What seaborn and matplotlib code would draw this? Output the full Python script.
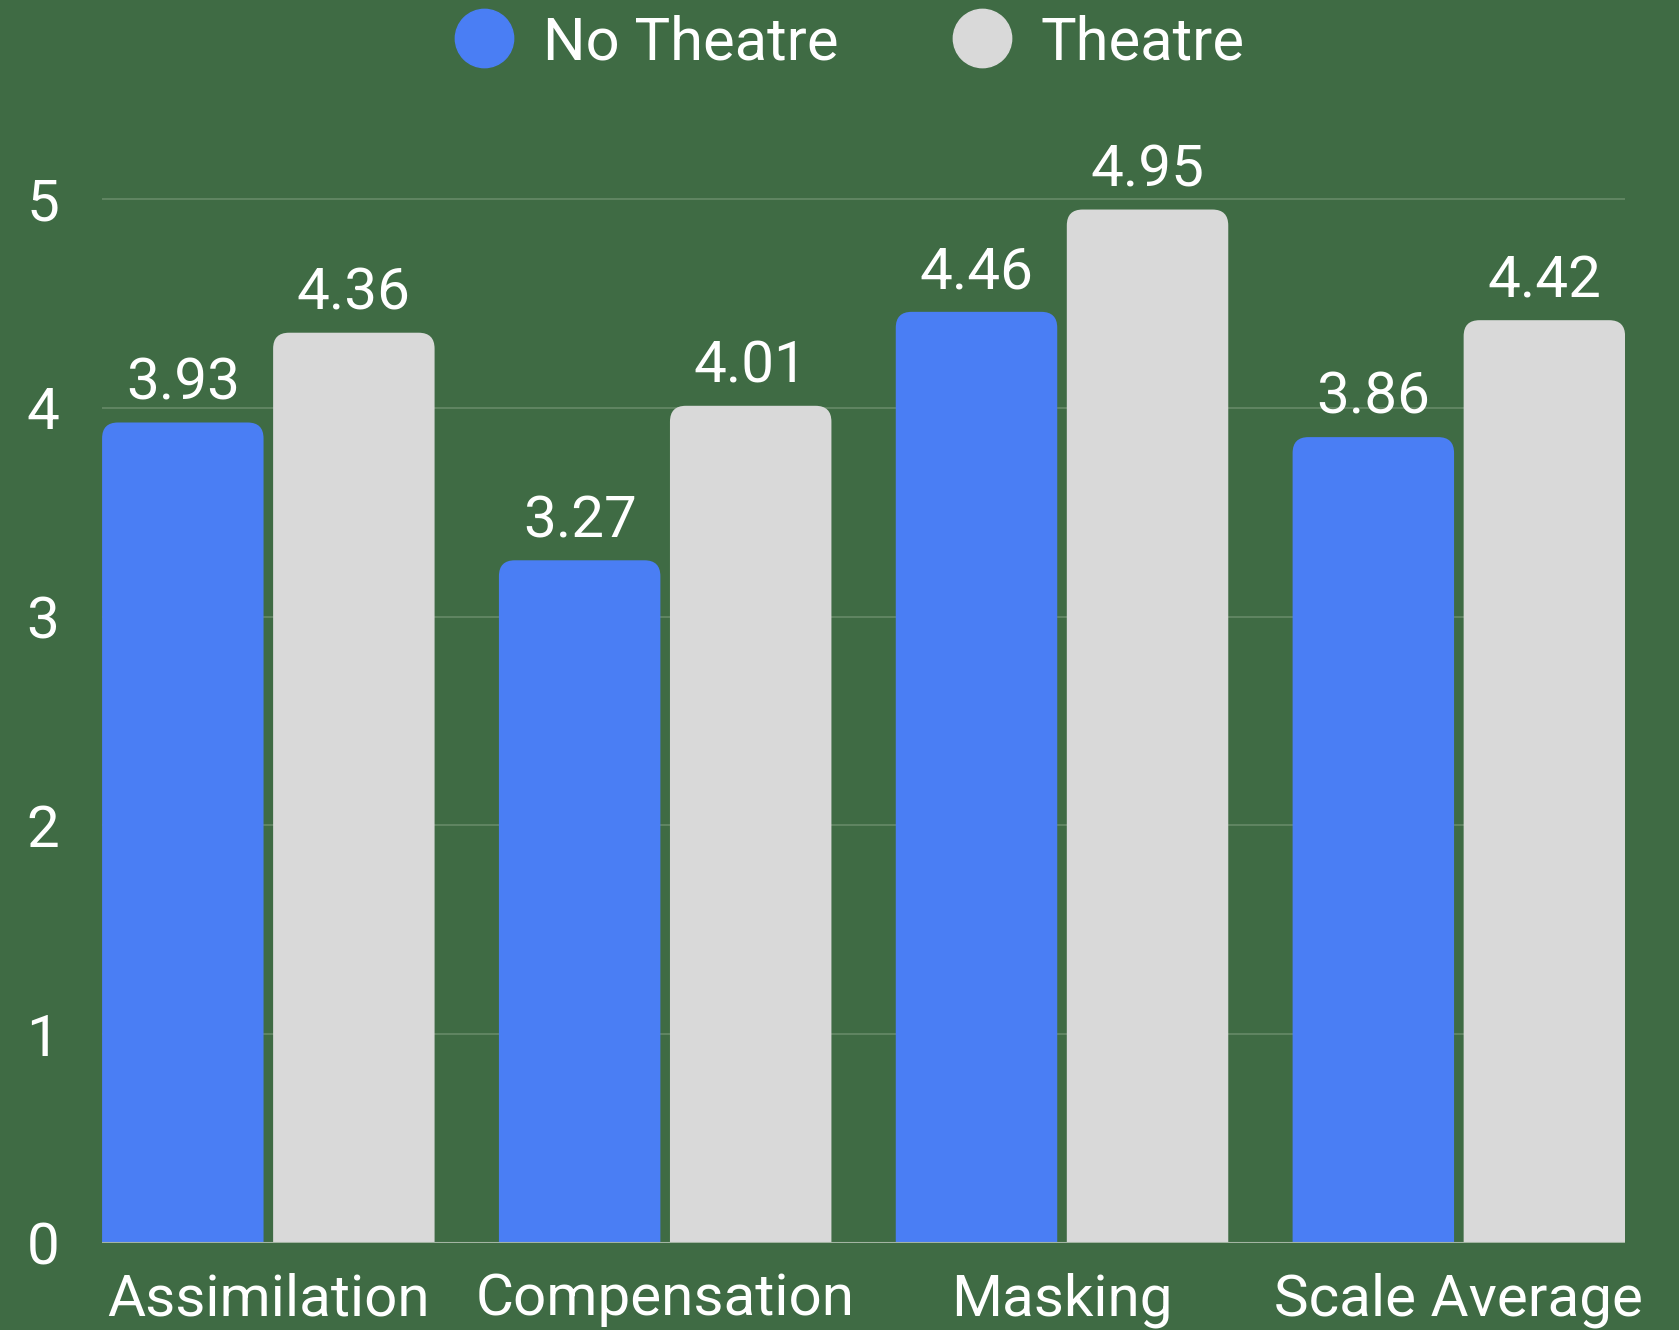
# Theatre vs no theatre bar chart

import pandas as pd
import matplotlib
matplotlib.use("Agg")
import matplotlib.pyplot as plt
from matplotlib.patches import FancyBboxPatch
from matplotlib.lines import Line2D
import seaborn as sns


# Chart data
categories = ["Assimilation", "Compensation", "Masking", "Scale Average"]
groups = ["No Theatre", "Theatre"]
noTheatre = [3.93, 3.27, 4.46, 3.86]
theatre = [4.36, 4.01, 4.95, 4.42]
yTicks = [0, 1, 2, 3, 4, 5]

# Colours
bgColor = "#3f6b44"
blueColor = "#4a7ef4"
greyColor = "#d9d9d9"
textColor = "#ffffff"

df = pd.DataFrame({
    "category": categories * 2,
    "group": [groups[0]] * len(categories) + [groups[1]] * len(categories),
    "score": noTheatre + theatre,
})

plt.rcParams["font.family"] = ["Roboto", "DejaVu Sans"]

fig = plt.figure(figsize=(16.79, 13.3), dpi=100)
fig.patch.set_facecolor(bgColor)
ax = fig.add_axes([0.0608, 0.0654, 0.9071, 0.832])
ax.set_facecolor(bgColor)

sns.barplot(data=df, x="category", y="score", hue="group",
            palette=[blueColor, greyColor], saturation=1,
            width=0.862, gap=0.056, legend=False, ax=ax, zorder=2)

# Value labels above bars
for container in ax.containers:
    ax.bar_label(container, fmt="%.2f", padding=8, fontsize=42,
                 color=textColor)

# Swap plain bars for bars with rounded tops
xLeft, xRight = [], []
for bar in list(ax.patches):
    x, w, h = bar.get_x(), bar.get_width(), bar.get_height()
    xLeft.append(x)
    xRight.append(x + w)
    rounded = FancyBboxPatch((x, -0.4), w, h + 0.4,
                             boxstyle="round,pad=0,rounding_size=0.04",
                             mutation_aspect=1.9,
                             facecolor=bar.get_facecolor(), edgecolor="none",
                             zorder=2)
    bar.set_visible(False)
    ax.add_patch(rounded)

ax.set_xlim(min(xLeft), max(xRight))
ax.set_ylim(0, 5.3)
ax.set_yticks(yTicks)

for side in ax.spines:
    ax.spines[side].set_visible(False)

ax.yaxis.grid(True, color="#668a68", linewidth=1.2, zorder=0)
ax.set_axisbelow(True)
ax.axhline(0, color="#a3b5a3", linewidth=1.5, zorder=3)

ax.set_xlabel("")
ax.set_ylabel("")
ax.tick_params(axis="both", length=0, labelsize=42, labelcolor=textColor)
ax.tick_params(axis="y", pad=31)
ax.tick_params(axis="x", pad=21)

# Legend with round markers
handles = [Line2D([0], [0], marker="o", linestyle="", markersize=42,
                  markerfacecolor=c, markeredgecolor=c)
           for c in [blueColor, greyColor]]
leg = fig.legend(handles, groups, loc="center", ncol=2,
                 bbox_to_anchor=(0.506, 0.968), frameon=False, fontsize=43,
                 handlelength=1.0, handletextpad=0.48, columnspacing=1.9)
for t in leg.get_texts():
    t.set_color(textColor)

fig.savefig("out.png", dpi=100, facecolor=bgColor)
